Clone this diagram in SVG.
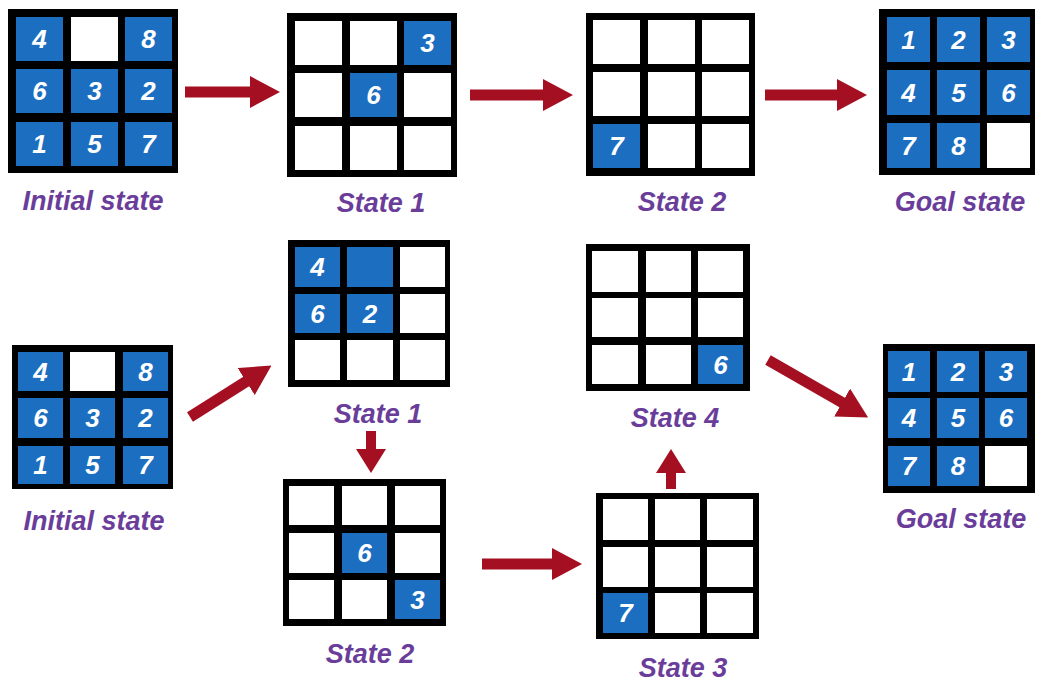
<svg xmlns="http://www.w3.org/2000/svg" width="1039" height="682" viewBox="0 0 1039 682">
<style>
.frame{fill:#000}
.w{fill:#fff}
.b{fill:#1c6ec0}
.d{font-family:"Liberation Sans",Arial,sans-serif;font-weight:bold;font-style:italic;font-size:26px;fill:#fff;text-anchor:middle}
.lbl{font-family:"Liberation Sans",Arial,sans-serif;font-weight:bold;font-style:italic;font-size:27px;fill:#6a3d9a;text-anchor:middle}
.arr{stroke:#a50f22;stroke-width:11;fill:none}
.arrs{stroke:#a50f22;stroke-width:10;fill:none}
</style>
<defs>
<marker id="head" markerUnits="userSpaceOnUse" viewBox="0 0 30 32" markerWidth="30" markerHeight="32" refX="1" refY="16" orient="auto">
<path d="M0,0 L30,16 L0,32 Z" fill="#a50f22"/>
</marker>
<marker id="heads" markerUnits="userSpaceOnUse" viewBox="0 0 24 30" markerWidth="24" markerHeight="30" refX="1" refY="15" orient="auto">
<path d="M0,0 L24,15 L0,30 Z" fill="#a50f22"/>
</marker>
</defs>

<g id="top-initial">
<rect class="frame" x="8" y="9" width="170" height="164"/>
<rect class="b" x="16" y="17" width="47" height="44"/><rect class="w" x="71" y="17" width="47" height="44"/><rect class="b" x="125" y="17" width="47" height="44"/>
<rect class="b" x="16" y="69" width="47" height="44"/><rect class="b" x="71" y="69" width="47" height="44"/><rect class="b" x="125" y="69" width="47" height="44"/>
<rect class="b" x="16" y="122" width="47" height="44"/><rect class="b" x="71" y="122" width="47" height="44"/><rect class="b" x="125" y="122" width="47" height="44"/>
<text class="d" x="39.5" y="48">4</text><text class="d" x="148.5" y="48">8</text>
<text class="d" x="39.5" y="100">6</text><text class="d" x="94.5" y="100">3</text><text class="d" x="148.5" y="100">2</text>
<text class="d" x="39.5" y="153">1</text><text class="d" x="94.5" y="153">5</text><text class="d" x="148.5" y="153">7</text>
<text class="lbl" x="93" y="210">Initial state</text>
</g>

<g id="top-state1">
<rect class="frame" x="287" y="13" width="170" height="164"/>
<rect class="w" x="295" y="21" width="47" height="44"/><rect class="w" x="350" y="21" width="47" height="44"/><rect class="b" x="404" y="21" width="47" height="44"/>
<rect class="w" x="295" y="73" width="47" height="44"/><rect class="b" x="350" y="73" width="47" height="44"/><rect class="w" x="404" y="73" width="47" height="44"/>
<rect class="w" x="295" y="126" width="47" height="44"/><rect class="w" x="350" y="126" width="47" height="44"/><rect class="w" x="404" y="126" width="47" height="44"/>
<text class="d" x="427.5" y="52">3</text><text class="d" x="373.5" y="104">6</text>
<text class="lbl" x="381" y="212">State 1</text>
</g>

<g id="top-state2">
<rect class="frame" x="586" y="13" width="169" height="163"/>
<rect class="w" x="593" y="20" width="47" height="44"/><rect class="w" x="648" y="20" width="47" height="44"/><rect class="w" x="702" y="20" width="47" height="44"/>
<rect class="w" x="593" y="72" width="47" height="44"/><rect class="w" x="648" y="72" width="47" height="44"/><rect class="w" x="702" y="72" width="47" height="44"/>
<rect class="b" x="593" y="124" width="47" height="44"/><rect class="w" x="648" y="124" width="47" height="44"/><rect class="w" x="702" y="124" width="47" height="44"/>
<text class="d" x="616.5" y="155">7</text>
<text class="lbl" x="682" y="211">State 2</text>
</g>

<g id="top-goal">
<rect class="frame" x="879" y="9" width="156" height="166"/>
<rect class="b" x="887" y="17" width="43" height="45"/><rect class="b" x="937" y="17" width="43" height="45"/><rect class="b" x="987" y="17" width="43" height="45"/>
<rect class="b" x="887" y="70" width="43" height="45"/><rect class="b" x="937" y="70" width="43" height="45"/><rect class="b" x="987" y="70" width="43" height="45"/>
<rect class="b" x="887" y="123" width="43" height="45"/><rect class="b" x="937" y="123" width="43" height="45"/><rect class="w" x="987" y="123" width="43" height="45"/>
<text class="d" x="908.5" y="48.5">1</text><text class="d" x="958.5" y="48.5">2</text><text class="d" x="1008.5" y="48.5">3</text>
<text class="d" x="908.5" y="101.5">4</text><text class="d" x="958.5" y="101.5">5</text><text class="d" x="1008.5" y="101.5">6</text>
<text class="d" x="908.5" y="154.5">7</text><text class="d" x="958.5" y="154.5">8</text>
<text class="lbl" x="960" y="211">Goal state</text>
</g>

<g id="bottom-initial">
<rect class="frame" x="12" y="345" width="161" height="144"/>
<rect class="b" x="18" y="352" width="45" height="39"/><rect class="w" x="70" y="352" width="45" height="39"/><rect class="b" x="123" y="352" width="45" height="39"/>
<rect class="b" x="18" y="398" width="45" height="40"/><rect class="b" x="70" y="398" width="45" height="40"/><rect class="b" x="123" y="398" width="45" height="40"/>
<rect class="b" x="18" y="446" width="45" height="38"/><rect class="b" x="70" y="446" width="45" height="38"/><rect class="b" x="123" y="446" width="45" height="38"/>
<text class="d" x="40.5" y="380.5">4</text><text class="d" x="145.5" y="380.5">8</text>
<text class="d" x="40.5" y="427">6</text><text class="d" x="92.5" y="427">3</text><text class="d" x="145.5" y="427">2</text>
<text class="d" x="40.5" y="474">1</text><text class="d" x="92.5" y="474">5</text><text class="d" x="145.5" y="474">7</text>
<text class="lbl" x="94" y="530">Initial state</text>
</g>

<g id="bottom-state1">
<rect class="frame" x="288" y="240" width="162" height="147"/>
<rect class="b" x="295" y="247" width="45" height="40"/><rect class="b" x="347" y="247" width="46" height="40"/><rect class="w" x="400" y="247" width="45" height="40"/>
<rect class="b" x="295" y="294" width="45" height="39"/><rect class="b" x="347" y="294" width="46" height="39"/><rect class="w" x="400" y="294" width="45" height="39"/>
<rect class="w" x="295" y="340" width="45" height="40"/><rect class="w" x="347" y="340" width="46" height="40"/><rect class="w" x="400" y="340" width="45" height="40"/>
<text class="d" x="317.5" y="276">4</text>
<text class="d" x="317.5" y="322.5">6</text><text class="d" x="370" y="322.5">2</text>
<text class="lbl" x="378" y="423">State 1</text>
</g>

<g id="bottom-state2">
<rect class="frame" x="283" y="479" width="163" height="147"/>
<rect class="w" x="289" y="486" width="45" height="39"/><rect class="w" x="342" y="486" width="45" height="39"/><rect class="w" x="395" y="486" width="45" height="39"/>
<rect class="w" x="289" y="533" width="45" height="40"/><rect class="b" x="342" y="533" width="45" height="40"/><rect class="w" x="395" y="533" width="45" height="40"/>
<rect class="w" x="289" y="580" width="45" height="39"/><rect class="w" x="342" y="580" width="45" height="39"/><rect class="b" x="395" y="580" width="45" height="39"/>
<text class="d" x="364.5" y="562">6</text><text class="d" x="417.5" y="608.5">3</text>
<text class="lbl" x="370" y="663">State 2</text>
</g>

<g id="bottom-state3">
<rect class="frame" x="596" y="493" width="163" height="146"/>
<rect class="w" x="603" y="499" width="45" height="41"/><rect class="w" x="655" y="499" width="45" height="41"/><rect class="w" x="707" y="499" width="46" height="41"/>
<rect class="w" x="603" y="547" width="45" height="40"/><rect class="w" x="655" y="547" width="45" height="40"/><rect class="w" x="707" y="547" width="46" height="40"/>
<rect class="b" x="603" y="593" width="45" height="40"/><rect class="w" x="655" y="593" width="45" height="40"/><rect class="w" x="707" y="593" width="46" height="40"/>
<text class="d" x="625.5" y="622">7</text>
<text class="lbl" x="683" y="677">State 3</text>
</g>

<g id="bottom-state4">
<rect class="frame" x="586" y="244" width="164" height="147"/>
<rect class="w" x="592" y="251" width="46" height="41"/><rect class="w" x="646" y="251" width="45" height="41"/><rect class="w" x="698" y="251" width="45" height="41"/>
<rect class="w" x="592" y="298" width="46" height="39"/><rect class="w" x="646" y="298" width="45" height="39"/><rect class="w" x="698" y="298" width="45" height="39"/>
<rect class="w" x="592" y="345" width="46" height="39"/><rect class="w" x="646" y="345" width="45" height="39"/><rect class="b" x="698" y="345" width="45" height="39"/>
<text class="d" x="720.5" y="373.5">6</text>
<text class="lbl" x="675" y="427">State 4</text>
</g>

<g id="bottom-goal">
<rect class="frame" x="883" y="344" width="152" height="149"/>
<rect class="b" x="888" y="351" width="42" height="41"/><rect class="b" x="937" y="351" width="42" height="41"/><rect class="b" x="985" y="351" width="42" height="41"/>
<rect class="b" x="888" y="398" width="42" height="40"/><rect class="b" x="937" y="398" width="42" height="40"/><rect class="b" x="985" y="398" width="42" height="40"/>
<rect class="b" x="888" y="446" width="42" height="40"/><rect class="b" x="937" y="446" width="42" height="40"/><rect class="w" x="985" y="446" width="42" height="40"/>
<text class="d" x="909" y="380.5">1</text><text class="d" x="958" y="380.5">2</text><text class="d" x="1006" y="380.5">3</text>
<text class="d" x="909" y="427">4</text><text class="d" x="958" y="427">5</text><text class="d" x="1006" y="427">6</text>
<text class="d" x="909" y="475">7</text><text class="d" x="958" y="475">8</text>
<text class="lbl" x="961" y="528">Goal state</text>
</g>

<g id="connectors">
<line class="arr" x1="185" y1="92" x2="251" y2="92" marker-end="url(#head)"/>
<line class="arr" x1="470" y1="95" x2="544" y2="95" marker-end="url(#head)"/>
<line class="arr" x1="765" y1="95" x2="838" y2="95" marker-end="url(#head)"/>
<line class="arr" x1="190" y1="417" x2="247" y2="381" marker-end="url(#head)"/>
<line class="arrs" x1="371" y1="431" x2="371" y2="450" marker-end="url(#heads)"/>
<line class="arr" x1="482" y1="564" x2="553" y2="564" marker-end="url(#head)"/>
<line class="arrs" x1="671" y1="489" x2="671" y2="472" marker-end="url(#heads)"/>
<line class="arr" x1="768" y1="360" x2="843" y2="403" marker-end="url(#head)"/>
</g>
</svg>
